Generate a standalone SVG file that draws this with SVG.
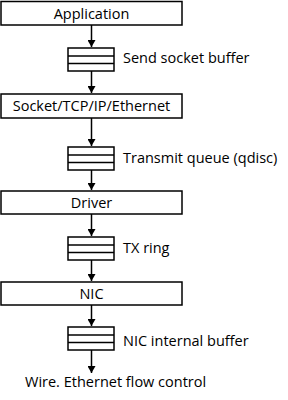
<svg xmlns="http://www.w3.org/2000/svg" width="288" height="400" viewBox="0 0 288 400">
<defs>
<marker id="ah" markerWidth="8" markerHeight="8" refX="7" refY="4" orient="auto" markerUnits="userSpaceOnUse">
<path d="M0,0 L7,4 L0,8 Z" fill="#000"/>
</marker>
<style>
.box{fill:#fff;stroke:#000;stroke-width:1.5}
.buf{fill:#fff;stroke:#000;stroke-width:1.5}
.t{font-family:"Open Sans","Noto Sans",sans-serif;font-size:14.5px;fill:#000}
.c{text-anchor:middle}
.e{stroke:#000;stroke-width:1.5;fill:none;marker-end:url(#ah)}
</style>
</defs>
<rect width="288" height="400" fill="#fff"/>
<g id="connectors">
<line class="e" x1="91.5" y1="25" x2="91.5" y2="47"/>
<line class="e" x1="91.5" y1="71" x2="91.5" y2="93"/>
<line class="e" x1="91.5" y1="118" x2="91.5" y2="146"/>
<line class="e" x1="91.5" y1="170" x2="91.5" y2="190"/>
<line class="e" x1="91.5" y1="214" x2="91.5" y2="236"/>
<line class="e" x1="91.5" y1="260" x2="91.5" y2="281"/>
<line class="e" x1="91.5" y1="305" x2="91.5" y2="326"/>
<line class="e" x1="91.5" y1="350" x2="91.5" y2="373"/>
</g>
<g id="application"><rect class="box" x="1" y="1.5" width="181" height="23.5"/><text class="t c" x="91.5" y="19">Application</text></g>
<g id="send-buffer"><rect class="buf" x="68" y="48" width="46" height="23"/><line x1="68" y1="56" x2="114" y2="56" stroke="#000" stroke-width="1.5"/><line x1="68" y1="63.5" x2="114" y2="63.5" stroke="#000" stroke-width="1.5"/><text class="t" x="123" y="63">Send socket buffer</text></g>
<g id="socket"><rect class="box" x="1" y="94" width="181" height="24"/><text class="t c" x="91.5" y="111">Socket/TCP/IP/Ethernet</text></g>
<g id="qdisc"><rect class="buf" x="68" y="147" width="46" height="23"/><line x1="68" y1="155" x2="114" y2="155" stroke="#000" stroke-width="1.5"/><line x1="68" y1="162.5" x2="114" y2="162.5" stroke="#000" stroke-width="1.5"/><text class="t" x="123" y="163">Transmit queue (qdisc)</text></g>
<g id="driver"><rect class="box" x="1" y="191" width="181" height="23"/><text class="t c" x="91.5" y="208">Driver</text></g>
<g id="tx-ring"><rect class="buf" x="68" y="237" width="46" height="23"/><line x1="68" y1="245" x2="114" y2="245" stroke="#000" stroke-width="1.5"/><line x1="68" y1="252.5" x2="114" y2="252.5" stroke="#000" stroke-width="1.5"/><text class="t" x="123" y="253">TX ring</text></g>
<g id="nic"><rect class="box" x="1" y="282" width="181" height="23"/><text class="t c" x="91.5" y="299">NIC</text></g>
<g id="nic-buffer"><rect class="buf" x="68" y="327" width="46" height="23"/><line x1="68" y1="335" x2="114" y2="335" stroke="#000" stroke-width="1.5"/><line x1="68" y1="342.5" x2="114" y2="342.5" stroke="#000" stroke-width="1.5"/><text class="t" x="123" y="346">NIC internal buffer</text></g>
<g id="wire"><text class="t" x="25" y="387">Wire. Ethernet flow control</text></g>
</svg>
